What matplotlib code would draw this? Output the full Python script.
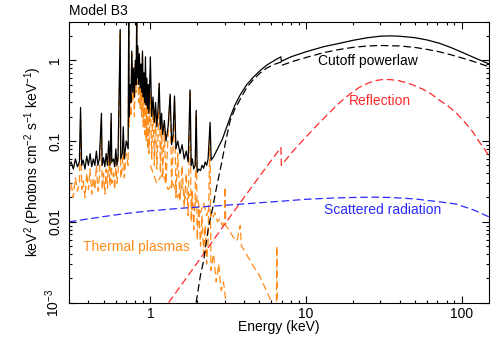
import matplotlib
matplotlib.use("Agg")
import matplotlib.pyplot as plt
import numpy as np

# ==============================================================
# Data (energy in keV, flux in keV^2 ph/cm2/s/keV)
# ==============================================================
total_energy = [
    0.30, 0.31, 0.32, 0.33, 0.34, 0.35, 0.356, 0.362, 0.37, 0.38, 0.39, 0.40,
    0.41, 0.42, 0.43, 0.44, 0.45, 0.46, 0.47, 0.485, 0.49, 0.50, 0.51, 0.52,
    0.53, 0.54, 0.55, 0.56, 0.565, 0.58, 0.59, 0.60, 0.61, 0.62, 0.64, 0.645,
    0.66, 0.67, 0.68, 0.70, 0.72, 0.726, 0.73, 0.74, 0.75, 0.76, 0.77, 0.78,
    0.79, 0.80, 0.81, 0.817, 0.82, 0.83, 0.84, 0.85, 0.86, 0.87, 0.88, 0.89,
    0.90, 0.91, 0.92, 0.93, 0.94, 0.95, 0.96, 0.97, 0.98, 1.00, 1.02, 1.04,
    1.06, 1.08, 1.10, 1.12, 1.14, 1.16, 1.18, 1.20, 1.23, 1.26, 1.30, 1.34,
    1.37, 1.40, 1.43, 1.46, 1.50, 1.55, 1.60, 1.65, 1.70, 1.75, 1.80, 1.83,
    1.86, 1.90, 1.94, 1.97, 2.00, 2.05, 2.10, 2.15, 2.20, 2.25, 2.30, 2.35,
    2.42, 2.46, 2.55, 2.7, 2.9, 3.1, 3.3, 3.5, 3.8, 4.17, 4.6, 5.1, 5.6, 6.2,
    6.9, 6.95, 8.0, 10, 13, 16.5, 20, 25, 30, 35, 40, 50, 60, 72, 85, 100,
    120, 150]
total_flux = [
    0.050, 0.055, 0.045, 0.060, 0.048, 0.055, 0.26, 0.050, 0.058, 0.045, 0.065, 0.050,
    0.070, 0.048, 0.060, 0.050, 0.075, 0.050, 0.060, 0.22, 0.050, 0.062, 0.048, 0.070,
    0.050, 0.10, 0.050, 0.22, 0.055, 0.060, 0.048, 0.080, 0.050, 0.065, 2.4, 0.060,
    0.070, 0.15, 0.060, 0.10, 0.080, 3.5, 0.20, 0.50, 0.30, 1.3, 0.40, 0.80,
    0.35, 1.0, 0.50, 3.5, 0.60, 1.5, 0.50, 1.2, 0.45, 0.90, 0.40, 1.3,
    0.35, 0.70, 0.30, 1.1, 0.28, 0.60, 0.25, 0.50, 0.22, 1.1, 0.20, 0.35,
    0.17, 0.30, 0.15, 0.25, 0.52, 0.14, 0.22, 0.12, 0.18, 0.10, 0.15, 0.38,
    0.09, 0.12, 0.36, 0.08, 0.10, 0.07, 0.09, 0.06, 0.075, 0.055, 0.43, 0.05,
    0.06, 0.045, 0.05, 0.24, 0.041, 0.045, 0.043, 0.05, 0.046, 0.055, 0.05, 0.06,
    0.17, 0.058, 0.064, 0.08, 0.105, 0.15, 0.21, 0.28, 0.38, 0.50, 0.62, 0.75, 0.87, 0.98,
    1.10, 0.97, 1.10, 1.27, 1.47, 1.62, 1.76, 1.90, 1.98, 2.00, 1.98, 1.90, 1.78, 1.62, 1.44, 1.26,
    1.08, 0.90]

cutoff_energy = [1.97, 2.1, 2.2, 2.36, 2.5, 2.61, 2.75, 2.89, 3.05, 3.26, 3.5, 3.8,
                 4.17, 4.6, 5.1, 5.6, 6.2, 6.9, 6.95, 8.0, 10, 13, 16.5, 20, 25,
                 30, 40, 50, 60, 72, 85, 100, 120, 150]
cutoff_flux = [0.001, 0.0022, 0.0033, 0.0085, 0.014, 0.022, 0.036, 0.057, 0.10, 0.18, 0.25, 0.335,
               0.46, 0.58, 0.70, 0.80, 0.88, 0.95, 0.86, 0.95, 1.08, 1.24, 1.36, 1.44, 1.50,
               1.52, 1.50, 1.44, 1.36, 1.27, 1.17, 1.07, 0.96, 0.83]

refl_energy = [1.31, 2.0, 3.0, 4.0, 5.0, 6.0, 6.9, 6.95, 8.0, 9.0, 10, 11.7, 13,
               14.5, 16.5, 19.1, 22, 25, 28, 31, 35, 40, 48, 56, 64, 72, 82,
               92, 105, 118, 130, 140, 150]
refl_flux = [0.001, 0.0031, 0.0093, 0.020, 0.036, 0.058, 0.083, 0.050, 0.070, 0.090, 0.112, 0.155, 0.19,
             0.235, 0.30, 0.38, 0.46, 0.52, 0.56, 0.575, 0.575, 0.555, 0.50, 0.44, 0.38, 0.32, 0.27,
             0.225, 0.17, 0.13, 0.097, 0.080, 0.065]

scat_energy = [0.3, 0.5, 0.7, 1.0, 1.5, 2.0, 3.0, 5.0, 7.0, 10, 15, 20, 27, 35,
               50, 70, 92, 120, 150]
scat_flux = [0.0100, 0.0116, 0.0127, 0.0137, 0.0146, 0.0152, 0.0160, 0.0172, 0.0180, 0.0190, 0.0197, 0.0200, 0.0202, 0.0200,
             0.0192, 0.0178, 0.0166, 0.0140, 0.0115]

# cooler plasma: line-rich, dies out near 3 keV
cool_energy = [
    0.30, 0.31, 0.32, 0.33, 0.34, 0.35, 0.356, 0.362, 0.37, 0.38, 0.39, 0.40,
    0.41, 0.42, 0.43, 0.44, 0.45, 0.46, 0.47, 0.485, 0.49, 0.50, 0.51, 0.52,
    0.53, 0.54, 0.55, 0.56, 0.565, 0.58, 0.59, 0.60, 0.61, 0.62, 0.64, 0.645,
    0.66, 0.67, 0.68, 0.70, 0.72, 0.726, 0.73, 0.74, 0.75, 0.76, 0.77, 0.78,
    0.79, 0.80, 0.81, 0.817, 0.82, 0.83, 0.84, 0.85, 0.86, 0.87, 0.88, 0.89,
    0.90, 0.91, 0.92, 0.93, 0.94, 0.95, 0.96, 0.97, 0.98, 1.00, 1.02, 1.04,
    1.06, 1.08, 1.10, 1.12, 1.14, 1.16, 1.18, 1.20, 1.23, 1.26, 1.30, 1.34,
    1.37, 1.40, 1.43, 1.46, 1.50, 1.55, 1.60, 1.65, 1.70, 1.75, 1.80, 1.83,
    1.86, 1.90, 1.94, 1.97, 2.00, 2.05, 2.10, 2.15, 2.20, 2.25, 2.30, 2.35,
    2.42, 2.45, 2.55, 2.65, 2.75, 2.85, 2.95, 3.05, 3.1]
cool_flux = [
    0.022, 0.030, 0.020, 0.035, 0.024, 0.030, 0.20, 0.025, 0.032, 0.020, 0.040, 0.025,
    0.045, 0.022, 0.035, 0.025, 0.050, 0.024, 0.035, 0.18, 0.025, 0.040, 0.022, 0.045,
    0.026, 0.070, 0.028, 0.18, 0.030, 0.040, 0.025, 0.055, 0.030, 0.040, 2.3, 0.035,
    0.045, 0.10, 0.035, 0.070, 0.050, 3.5, 0.15, 0.40, 0.20, 1.2, 0.30, 0.70,
    0.20, 0.90, 0.40, 3.5, 0.50, 1.4, 0.30, 1.1, 0.25, 0.80, 0.20, 1.2,
    0.15, 0.60, 0.12, 0.70, 0.10, 0.50, 0.08, 0.40, 0.07, 0.40, 0.06, 0.30,
    0.05, 0.25, 0.045, 0.12, 0.50, 0.040, 0.18, 0.035, 0.14, 0.030, 0.12, 0.35,
    0.025, 0.09, 0.33, 0.020, 0.07, 0.018, 0.05, 0.015, 0.04, 0.012, 0.40, 0.010,
    0.025, 0.008, 0.020, 0.22, 0.006, 0.015, 0.005, 0.012, 0.004, 0.009, 0.003, 0.006,
    0.15, 0.0025, 0.004, 0.0018, 0.003, 0.0014, 0.0018, 0.0011, 0.0009]

# hotter plasma: smoother, reaches the Fe K band
hot_energy = [1.0, 1.1, 1.2, 1.3, 1.4, 1.5, 1.6, 1.7, 1.8, 1.9, 2.0, 2.1, 2.2,
              2.3, 2.4, 2.5, 2.6, 2.7, 2.8, 2.9, 3.0, 3.02, 3.05, 3.2, 3.4, 3.6,
              3.78, 3.85, 4.0, 4.3, 4.6, 5.0, 5.4, 5.9, 6.1, 6.45, 6.5, 6.55]
hot_flux = [0.05, 0.03, 0.04, 0.025, 0.03, 0.02, 0.028, 0.018, 0.022, 0.015, 0.02, 0.013, 0.017,
            0.012, 0.015, 0.011, 0.013, 0.010, 0.011, 0.009, 0.010, 0.027, 0.009, 0.008, 0.0065, 0.0058,
            0.009, 0.005, 0.0045, 0.0035, 0.0028, 0.0022, 0.0016, 0.0011, 0.0009, 0.0009, 0.005, 0.0009]

ytick_values = [1e-3, 0.01, 0.1, 1]
ytick_labels = ["$10^{-3}$", "0.01", "0.1", "1"]
xtick_values = [1, 10, 100]
xtick_labels = ["1", "10", "100"]

# ==============================================================
# Style
# ==============================================================
plt.rcParams['font.family'] = ['Liberation Sans', 'DejaVu Sans']
plt.rcParams['mathtext.fontset'] = 'custom'
plt.rcParams['mathtext.rm'] = 'Liberation Sans'
plt.rcParams['mathtext.it'] = 'Liberation Sans'
plt.rcParams['mathtext.default'] = 'regular'
plt.rcParams['font.size'] = 10

ORANGE = "#ff8c1a"
RED = "#ff2a2a"
BLUE = "#2a2aff"
DASH = (0, (6, 3))

fig = plt.figure(figsize=(4.91, 3.37), dpi=100)
ax = fig.add_axes([0.1405, 0.102, 0.8554, 0.8338])

ax.plot(cool_energy, cool_flux, color=ORANGE, lw=0.9, ls=DASH)
ax.plot(hot_energy, hot_flux, color=ORANGE, lw=0.9, ls=DASH)
ax.plot(scat_energy, scat_flux, color=BLUE, lw=0.9, ls=DASH)
ax.plot(refl_energy, refl_flux, color=RED, lw=0.9, ls=DASH)
ax.plot(cutoff_energy, cutoff_flux, color="black", lw=0.9, ls=DASH)
ax.plot(total_energy, total_flux, color="black", lw=0.9)

ax.set_xscale("log")
ax.set_yscale("log")
ax.set_xlim(0.3, 150)
ax.set_ylim(1e-3, 3.0)

ax.set_xticks(xtick_values)
ax.set_xticklabels(xtick_labels)
ax.set_yticks(ytick_values)
ax.set_yticklabels(ytick_labels, rotation=90, va="center")
ax.yaxis.set_minor_formatter(matplotlib.ticker.NullFormatter())
ax.xaxis.set_minor_formatter(matplotlib.ticker.NullFormatter())
ax.tick_params(which="both", direction="in", top=True, right=True, width=0.8)
ax.tick_params(which="major", length=5)
ax.tick_params(which="minor", length=2.5)
ax.tick_params(axis="y", pad=5)
for s in ax.spines.values():
    s.set_linewidth(0.8)

# labels on the curves
ax.text(25, 0.99, "Cutoff powerlaw", color="black", ha="center", va="center")
ax.text(30, 0.316, "Reflection", color=RED, ha="center", va="center")
ax.text(31, 0.0141, "Scattered radiation", color=BLUE, ha="center", va="center")
ax.text(0.81, 0.0049, "Thermal plasmas", color=ORANGE, ha="center", va="center")

fig.text(69 / 491, 1 - 11 / 337, "Model B3", ha="left", va="center")
fig.text(279 / 491, 1 - 327 / 337, "Energy (keV)", ha="center", va="center")
fig.text(33 / 491, 1 - 162 / 337, "keV$^2$ (Photons cm$^{-2}$ s$^{-1}$ keV$^{-1}$)",
         ha="center", va="center", rotation=90)

fig.savefig("out.png", dpi=100)
